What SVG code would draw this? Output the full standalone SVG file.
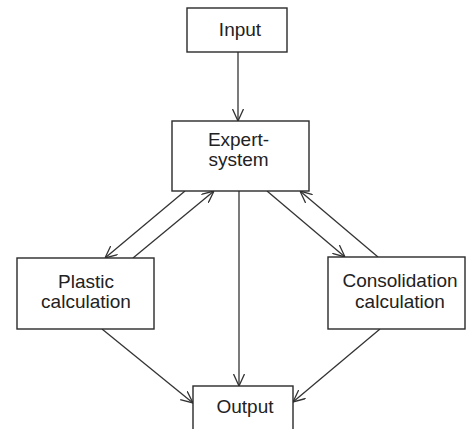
<svg xmlns="http://www.w3.org/2000/svg" width="468" height="429" viewBox="0 0 468 429">
<defs>
<style>
.box{fill:#fff;stroke:#2a2a2a;stroke-width:1.4}
.lbl{font-family:"Liberation Sans",Arial,sans-serif;font-size:19px;fill:#222;text-anchor:middle}
.con{stroke:#333;stroke-width:1.3;fill:none}
</style>
<marker id="arr" viewBox="0 0 12 12" refX="12" refY="6" markerWidth="12" markerHeight="12" markerUnits="userSpaceOnUse" orient="auto">
<path d="M0,0.5 L12,6 L0,11.5" fill="none" stroke="#333" stroke-width="1.3"/>
</marker>
</defs>
<rect width="468" height="429" fill="#fff"/>
<g id="connectors">
<line class="con" x1="238" y1="52" x2="238" y2="121" marker-end="url(#arr)"/>
<line class="con" x1="185" y1="191" x2="105" y2="258" marker-end="url(#arr)"/>
<line class="con" x1="133" y1="258" x2="214" y2="191" marker-end="url(#arr)"/>
<line class="con" x1="267" y1="191" x2="345" y2="257" marker-end="url(#arr)"/>
<line class="con" x1="378" y1="257" x2="300" y2="191" marker-end="url(#arr)"/>
<line class="con" x1="239" y1="191" x2="239" y2="386" marker-end="url(#arr)"/>
<line class="con" x1="102" y1="329" x2="193" y2="403" marker-end="url(#arr)"/>
<line class="con" x1="380" y1="329" x2="293" y2="402" marker-end="url(#arr)"/>
</g>
<g id="input">
<rect class="box" x="187" y="8" width="100" height="44"/>
<text class="lbl" x="240" y="36">Input</text>
</g>
<g id="expert-system">
<rect class="box" x="172" y="121" width="137" height="70"/>
<text class="lbl" x="238.5" y="146">Expert-</text>
<text class="lbl" x="238.5" y="166">system</text>
</g>
<g id="plastic">
<rect class="box" x="17" y="258" width="137" height="71"/>
<text class="lbl" x="86" y="288">Plastic</text>
<text class="lbl" x="86" y="308">calculation</text>
</g>
<g id="consolidation">
<rect class="box" x="328" y="257" width="137" height="72"/>
<text class="lbl" x="400" y="287">Consolidation</text>
<text class="lbl" x="400" y="308">calculation</text>
</g>
<g id="output">
<rect class="box" x="193" y="386" width="100" height="48"/>
<text class="lbl" x="245" y="413">Output</text>
</g>
</svg>
